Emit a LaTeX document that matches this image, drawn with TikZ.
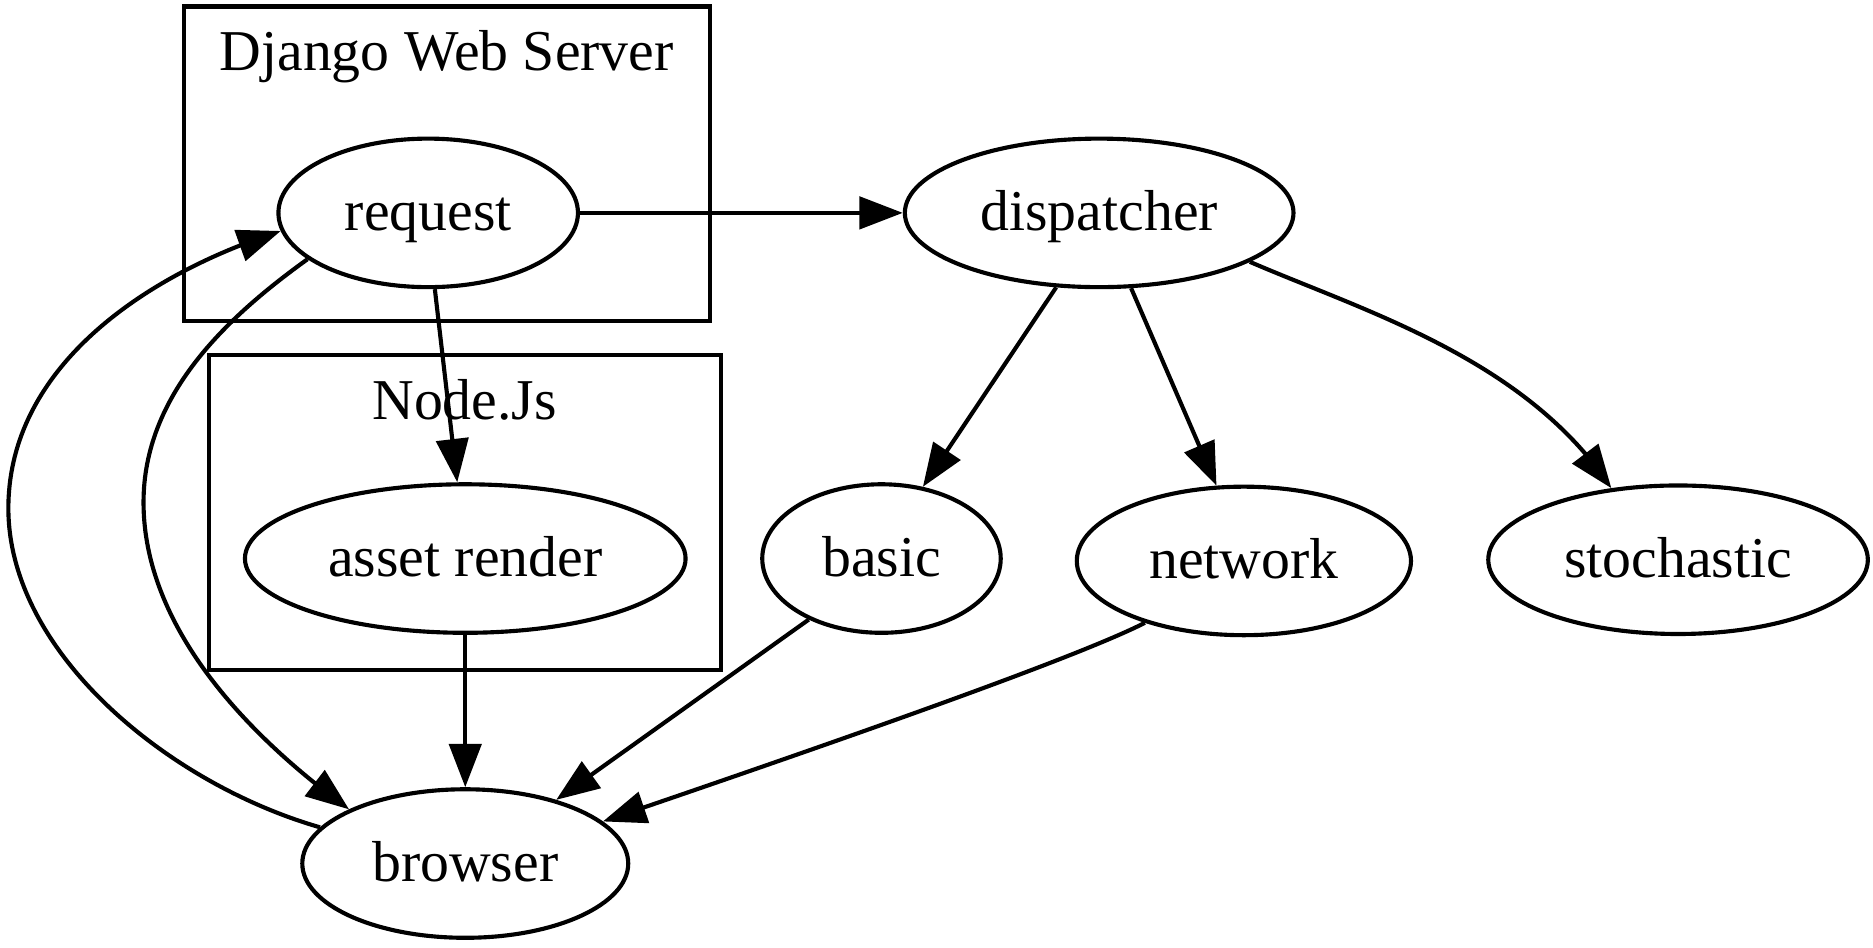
\documentclass[tikz,border=0pt]{standalone}
\usepackage{fontspec}
\setmainfont{Liberation Serif}
\usetikzlibrary{arrows.meta,shapes.geometric,bending}
\begin{document}
\begin{tikzpicture}[x=0.2899pt,y=-0.2899pt,
  every node/.style={font=\fontsize{14}{16.8}\selectfont},
  gvnode/.style={draw, ellipse, line width=1pt, inner sep=0pt, minimum height=36pt, text height=10pt, text depth=1.4pt},
  gvedge/.style={line width=1pt, -{Triangle[length=10.5pt,width=7.8pt,flex]}},
  cluster/.style={draw, line width=1pt}]
\useasboundingbox (0,0) rectangle (1566,792);
% clusters
\draw[cluster] (153.5,5.5) rectangle (593.5,268.5);
\node[anchor=base] (djlabel) at (373.5,59) {Django Web Server};
\draw[cluster] (174.5,297) rectangle (603,560);
\node[anchor=base] (njlabel) at (388.5,350.6) {Node.Js};
% nodes
\node[gvnode, minimum width=72.6pt] (request) at (358,178) {request};
\node[gvnode, minimum width=106.8pt] (asset) at (389,467) {asset render};
\node[gvnode, minimum width=79pt] (browser) at (389,722) {browser};
\node[gvnode, minimum width=94.2pt] (dispatcher) at (919,178) {dispatcher};
\node[gvnode, minimum width=57.8pt] (basic) at (737,467) {basic};
\node[gvnode, minimum width=81pt] (network) at (1040,469) {network};
\node[gvnode, minimum width=92pt] (stochastic) at (1403,468) {stochastic};
% edges
\draw[gvedge] (request.east) -- (dispatcher.west);
\draw[gvedge] (request.-85.3) -- (asset.96.4);
\draw[gvedge] (request.201.6) .. controls (190,265) and (120,330) .. (120,420) .. controls (120,520) and (200,610) .. (browser.155.4);
\draw[gvedge] (browser.166.8) .. controls (140,655) and (7,545) .. (7,425) .. controls (7,305) and (125,228) .. (request.187.8);
\draw[gvedge] (asset.south) -- (browser.north);
\draw[gvedge] (dispatcher.-120.3) -- (basic.60.2);
\draw[gvedge] (dispatcher.-67.7) -- (network.110.8);
\draw[gvedge] (dispatcher.-18.1) .. controls (1140,260) and (1276,300) .. (stochastic.133.8);
\draw[gvedge] (basic.-140.4) -- (browser.35.9);
\draw[gvedge] (network.-148.3) .. controls (900,550) and (700,620) .. (browser.17.5);
\end{tikzpicture}
\end{document}
